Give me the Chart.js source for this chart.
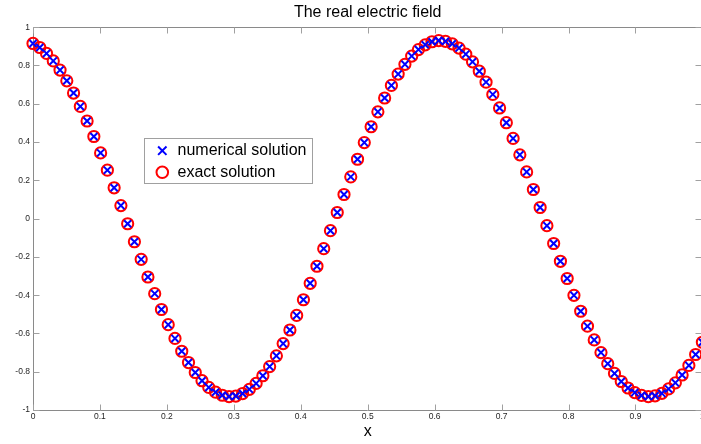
<!DOCTYPE html>
<html><head><meta charset="utf-8">
<script src="https://cdn.jsdelivr.net/npm/chart.js@4/dist/chart.umd.min.js"></script>
<style>
html,body{margin:0;padding:0;overflow:hidden;background:#fff;width:701px;height:444px}
#wrap{position:absolute;left:0;top:0;width:710px;height:444px}
</style>
</head><body><div id="wrap"><canvas id="c" width="710" height="444"></canvas></div>
<script>
const chartTitle = 'The real electric field';
const xAxisLabel = 'x';
const seriesLabels = ['numerical solution', 'exact solution'];
const xTickValues = [0, 0.1, 0.2, 0.3, 0.4, 0.5, 0.6, 0.7, 0.8, 0.9, 1];
const yTickValues = [-1, -0.8, -0.6, -0.4, -0.2, 0, 0.2, 0.4, 0.6, 0.8, 1];

const xValues = [
 0, 0.0101, 0.0202, 0.0303, 0.0404, 0.0505, 0.0606, 0.0707, 0.0808, 0.0909,
 0.1010, 0.1111, 0.1212, 0.1313, 0.1414, 0.1515, 0.1616, 0.1717, 0.1818, 0.1919,
 0.2020, 0.2121, 0.2222, 0.2323, 0.2424, 0.2525, 0.2626, 0.2727, 0.2828, 0.2929,
 0.3030, 0.3131, 0.3232, 0.3333, 0.3434, 0.3535, 0.3636, 0.3737, 0.3838, 0.3939,
 0.4040, 0.4141, 0.4242, 0.4343, 0.4444, 0.4545, 0.4646, 0.4747, 0.4848, 0.4949,
 0.5051, 0.5152, 0.5253, 0.5354, 0.5455, 0.5556, 0.5657, 0.5758, 0.5859, 0.5960,
 0.6061, 0.6162, 0.6263, 0.6364, 0.6465, 0.6566, 0.6667, 0.6768, 0.6869, 0.6970,
 0.7071, 0.7172, 0.7273, 0.7374, 0.7475, 0.7576, 0.7677, 0.7778, 0.7879, 0.7980,
 0.8081, 0.8182, 0.8283, 0.8384, 0.8485, 0.8586, 0.8687, 0.8788, 0.8889, 0.8990,
 0.9091, 0.9192, 0.9293, 0.9394, 0.9495, 0.9596, 0.9697, 0.9798, 0.9899, 1.0
];

const numericalSolution = [
 0.915, 0.894, 0.863, 0.824, 0.776, 0.720, 0.656, 0.586, 0.510, 0.429,
 0.343, 0.253, 0.161, 0.068, -0.027, -0.121, -0.213, -0.305, -0.392, -0.475,
 -0.554, -0.626, -0.693, -0.752, -0.804, -0.847, -0.882, -0.907, -0.923, -0.930,
 -0.927, -0.914, -0.892, -0.861, -0.821, -0.773, -0.717, -0.653, -0.582, -0.506,
 -0.424, -0.338, -0.249, -0.157, -0.063, 0.032, 0.126, 0.218, 0.310, 0.397,
 0.480, 0.558, 0.630, 0.696, 0.755, 0.806, 0.849, 0.883, 0.908, 0.924,
 0.930, 0.926, 0.913, 0.891, 0.859, 0.819, 0.770, 0.713, 0.649, 0.578,
 0.501, 0.419, 0.333, 0.244, 0.152, 0.058, -0.037, -0.130, -0.223, -0.313,
 -0.401, -0.484, -0.562, -0.634, -0.700, -0.758, -0.809, -0.851, -0.885, -0.909,
 -0.924, -0.930, -0.926, -0.913, -0.890, -0.858, -0.817, -0.767, -0.710, -0.646
];

const exactSolution = [
 0.915, 0.894, 0.863, 0.824, 0.776, 0.720, 0.656, 0.586, 0.510, 0.429,
 0.343, 0.253, 0.161, 0.068, -0.027, -0.121, -0.213, -0.305, -0.392, -0.475,
 -0.554, -0.626, -0.693, -0.752, -0.804, -0.847, -0.882, -0.907, -0.923, -0.930,
 -0.927, -0.914, -0.892, -0.861, -0.821, -0.773, -0.717, -0.653, -0.582, -0.506,
 -0.424, -0.338, -0.249, -0.157, -0.063, 0.032, 0.126, 0.218, 0.310, 0.397,
 0.480, 0.558, 0.630, 0.696, 0.755, 0.806, 0.849, 0.883, 0.908, 0.924,
 0.930, 0.926, 0.913, 0.891, 0.859, 0.819, 0.770, 0.713, 0.649, 0.578,
 0.501, 0.419, 0.333, 0.244, 0.152, 0.058, -0.037, -0.130, -0.223, -0.313,
 -0.401, -0.484, -0.562, -0.634, -0.700, -0.758, -0.809, -0.851, -0.885, -0.909,
 -0.924, -0.930, -0.926, -0.913, -0.890, -0.858, -0.817, -0.767, -0.710, -0.646
];

const FONT = "'Liberation Sans', Arial, Helvetica, sans-serif";
Chart.defaults.font.family = FONT;

const toPoints = ys => ys.map((y, i) => ({ x: xValues[i], y: y }));
const fmt = v => String(parseFloat(Number(v).toFixed(2)));

const boxPlugin = {
  id: 'matlabBox',
  beforeDatasetsDraw(chart) {
    const { ctx, chartArea: a, scales } = chart;
    const L = Math.round(a.left) + 0.5, R = Math.round(a.right) - 0.5;
    const T = Math.round(a.top) + 0.5, B = Math.round(a.bottom) + 0.5;
    const tl = 6;
    ctx.save();
    ctx.strokeStyle = '#8a8a8a';
    ctx.lineWidth = 1;
    ctx.beginPath();
    ctx.rect(L, T, R - L, B - T);
    ctx.stroke();
    ctx.strokeStyle = '#a0a0a0';
    ctx.beginPath();
    xTickValues.forEach(v => {
      const px = Math.round(scales.x.getPixelForValue(v)) + 0.5;
      ctx.moveTo(px, B); ctx.lineTo(px, B - tl);
      ctx.moveTo(px, T); ctx.lineTo(px, T + tl);
    });
    yTickValues.forEach(v => {
      const py = Math.round(scales.y.getPixelForValue(v)) + 0.5;
      ctx.moveTo(L, py); ctx.lineTo(L + tl, py);
      ctx.moveTo(R, py); ctx.lineTo(R - tl, py);
    });
    ctx.stroke();
    ctx.restore();
  }
};

const legendPlugin = {
  id: 'innerLegend',
  afterDatasetsDraw(chart) {
    const { ctx } = chart;
    const bx = 144.5, by = 138.5, bw = 168, bh = 45;
    ctx.save();
    ctx.fillStyle = '#ffffff';
    ctx.fillRect(bx, by, bw, bh);
    ctx.strokeStyle = '#a0a0a0';
    ctx.lineWidth = 1;
    ctx.strokeRect(bx, by, bw, bh);
    const rows = [150.7, 172.3];
    const mx = 162.3;
    chart.data.datasets.forEach((ds, i) => {
      const cy = rows[i];
      ctx.strokeStyle = ds.pointBorderColor;
      ctx.lineWidth = 2;
      ctx.beginPath();
      if (ds.pointStyle === 'crossRot') {
        const o = 4.2;
        ctx.moveTo(mx - o, cy - o); ctx.lineTo(mx + o, cy + o);
        ctx.moveTo(mx - o, cy + o); ctx.lineTo(mx + o, cy - o);
      } else {
        ctx.arc(mx, cy, 5.8, 0, Math.PI * 2);
      }
      ctx.stroke();
      ctx.fillStyle = '#000';
      ctx.font = '16px ' + FONT;
      ctx.textBaseline = 'middle';
      ctx.textAlign = 'left';
      ctx.fillText(ds.label, 177.5, cy);
    });
    ctx.restore();
  }
};

new Chart(document.getElementById('c'), {
  type: 'scatter',
  data: {
    datasets: [
      {
        label: seriesLabels[0],
        data: toPoints(numericalSolution),
        pointStyle: 'crossRot',
        pointRadius: 5,
        pointHoverRadius: 5,
        pointBorderWidth: 2,
        pointBorderColor: '#0000ff',
        pointBackgroundColor: '#0000ff',
        borderColor: '#0000ff',
        showLine: false,
        clip: false
      },
      {
        label: seriesLabels[1],
        data: toPoints(exactSolution),
        pointStyle: 'circle',
        pointRadius: 5.6,
        pointHoverRadius: 5.6,
        pointBorderWidth: 2,
        pointBorderColor: '#ff0000',
        pointBackgroundColor: 'rgba(0,0,0,0)',
        borderColor: '#ff0000',
        showLine: false,
        clip: false
      }
    ]
  },
  options: {
    responsive: false,
    animation: false,
    devicePixelRatio: 1,
    events: [],
    layout: { padding: 0 },
    plugins: {
      legend: { display: false },
      tooltip: { enabled: false },
      title: {
        display: true,
        text: chartTitle,
        fullSize: false,
        color: '#000',
        font: { size: 16, weight: 'normal', family: FONT },
        padding: { top: 3, bottom: 5 }
      }
    },
    scales: {
      x: {
        type: 'linear',
        min: 0, max: 1,
        afterBuildTicks: s => { s.ticks = xTickValues.map(v => ({ value: v })); },
        ticks: { font: { size: 8.5 }, color: '#262626', padding: 2, maxRotation: 0, autoSkip: false, callback: v => fmt(v) },
        grid: { display: false, drawTicks: false },
        border: { display: false },
        title: { display: true, text: xAxisLabel, color: '#000', font: { size: 16 }, padding: { top: 0, bottom: 3 } },
        afterFit: s => { s.height = 34; }
      },
      y: {
        type: 'linear',
        min: -1, max: 1,
        afterBuildTicks: s => { s.ticks = yTickValues.map(v => ({ value: v })); },
        ticks: { font: { size: 8.5 }, color: '#262626', padding: 3, autoSkip: false, callback: v => fmt(v) },
        grid: { display: false, drawTicks: false },
        border: { display: false },
        afterFit: s => { s.width = 33; }
      }
    }
  },
  plugins: [boxPlugin, legendPlugin]
});
</script>
</body></html>
